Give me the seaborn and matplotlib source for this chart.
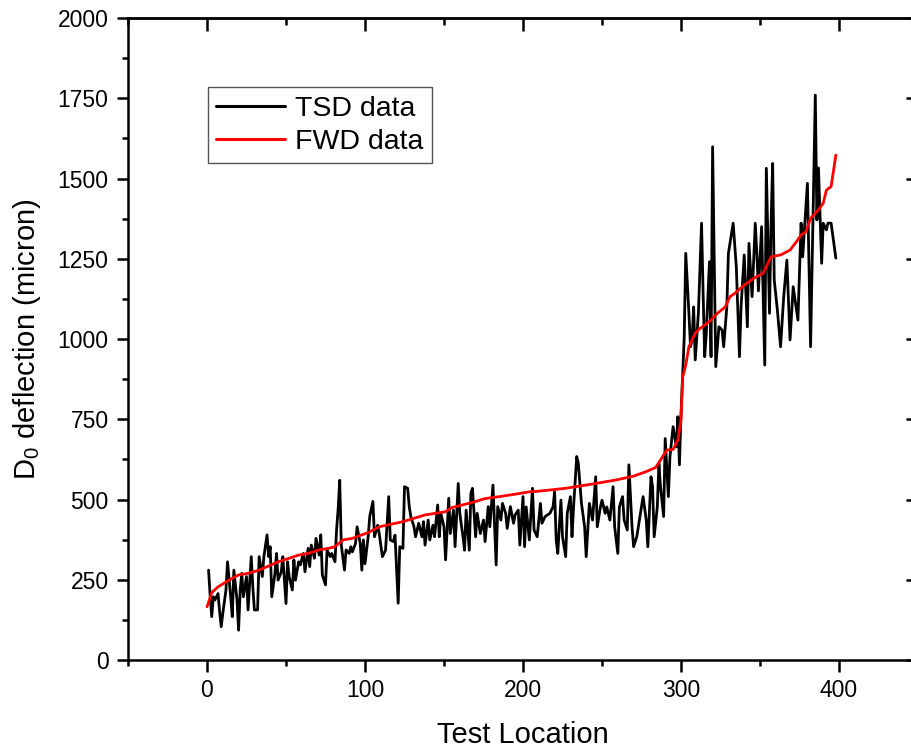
import pandas as pd
import seaborn as sns
import matplotlib.pyplot as plt
from matplotlib.ticker import MultipleLocator

tsd_x = [1, 2, 3, 4, 5, 7, 8, 9, 10, 12, 13, 15, 16, 17, 19, 20, 21, 22, 23, 25,
         26, 28, 29, 30, 32, 33, 35, 36, 38, 39, 40, 41, 43, 44, 45, 47, 48, 50, 51, 52,
         54, 55, 56, 58, 59, 61, 62, 64, 65, 66, 68, 69, 71, 72, 73, 75, 76, 78, 79, 81,
         82, 83, 84, 85, 87, 88, 90, 91, 92, 94, 95, 97, 98, 99, 100, 102, 103, 105, 106, 108,
         109, 111, 113, 115, 116, 118, 119, 121, 122, 124, 125, 127, 128, 129, 131, 132, 134, 136, 137, 138,
         140, 141, 143, 144, 146, 147, 148, 150, 151, 153, 154, 156, 157, 159, 160, 162, 163, 164, 166, 167,
         168, 170, 171, 173, 175, 176, 178, 179, 181, 183, 184, 186, 187, 189, 190, 192, 194, 195, 197, 198,
         200, 201, 202, 204, 206, 207, 209, 211, 212, 214, 217, 219, 220, 221, 222, 224, 225, 227, 228, 230,
         231, 232, 234, 235, 237, 239, 240, 242, 244, 246, 247, 249, 250, 252, 253, 255, 257, 258, 260, 261,
         263, 264, 266, 267, 269, 270, 272, 273, 275, 276, 278, 279, 281, 282, 283, 285, 286, 287, 289, 290,
         292, 293, 295, 297, 298, 299, 300, 302, 303, 305, 306, 307, 308, 309, 311, 313, 314, 315, 316, 318,
         319, 320, 322, 324, 326, 327, 329, 330, 333, 335, 337, 338, 340, 342, 343, 345, 347, 348, 349, 351,
         353, 354, 356, 357, 358, 359, 361, 363, 365, 367, 369, 371, 374, 376, 377, 380, 382, 385, 386, 387,
         389, 390, 392, 393, 395, 398]
tsd_y = [280, 200, 135, 197, 187, 207, 150, 104, 145, 218, 306, 197, 135, 280, 187, 93, 218, 270, 197, 260,
         156, 322, 228, 156, 156, 322, 260, 322, 390, 322, 353, 197, 270, 332, 249, 275, 322, 176, 306, 260,
         218, 312, 249, 306, 296, 332, 275, 348, 291, 358, 317, 379, 327, 390, 265, 234, 343, 322, 332, 306,
         405, 470, 560, 358, 280, 343, 332, 353, 337, 363, 415, 363, 280, 374, 300, 384, 447, 494, 384, 420,
         394, 322, 342, 509, 374, 369, 389, 177, 353, 348, 540, 535, 478, 447, 415, 384, 426, 384, 431, 358,
         436, 374, 420, 384, 483, 384, 457, 415, 312, 504, 394, 467, 353, 550, 457, 384, 342, 467, 342, 519,
         535, 384, 457, 394, 436, 369, 478, 415, 545, 296, 478, 436, 488, 457, 410, 478, 426, 452, 467, 358,
         509, 353, 477, 374, 535, 405, 384, 488, 426, 447, 457, 477, 524, 374, 332, 498, 384, 322, 457, 509,
         384, 477, 634, 613, 488, 415, 322, 488, 436, 571, 415, 477, 498, 457, 477, 436, 540, 415, 332, 477,
         509, 436, 405, 608, 415, 353, 384, 415, 477, 509, 436, 353, 571, 540, 384, 477, 613, 540, 447, 690,
         509, 634, 727, 664, 758, 608, 767, 1000, 1267, 1081, 976, 997, 1100, 935, 1081, 1361, 1142, 945, 1018, 1241,
         945, 1599, 914, 1038, 1028, 976, 1100, 1267, 1361, 1225, 945, 1100, 1262, 1038, 1298, 1132, 1361, 1267, 1150, 1350,
         919, 1532, 1080, 1361, 1547, 1184, 1090, 976, 1132, 1246, 997, 1163, 1059, 1361, 1256, 1485, 976, 1760, 1371, 1533,
         1236, 1361, 1340, 1361, 1361, 1252]

# FWD reference curve
fwd_x = [0, 1, 3, 7, 14, 20, 26, 33, 45, 52, 58, 64, 71, 77, 81, 86, 92, 98, 102, 109,
         124, 138, 151, 155, 168, 176, 185, 198, 204, 210, 227, 236, 246, 259, 270, 278, 284, 287, 291, 295,
         298, 300, 301, 303, 305, 309, 312, 315, 319, 323, 328, 331, 334, 340, 346, 352, 357, 363, 369, 373,
         376, 379, 382, 387, 390, 392, 395, 397, 398]
fwd_y = [166, 180, 210, 228, 249, 265, 270, 280, 306, 317, 327, 332, 343, 348, 353, 374, 379, 390, 397, 415,
         431, 452, 462, 475, 491, 503, 509, 519, 524, 526, 535, 542, 550, 561, 573, 587, 600, 623, 654, 656,
         685, 748, 880, 919, 976, 1018, 1033, 1043, 1059, 1080, 1100, 1132, 1142, 1168, 1189, 1205, 1256, 1262, 1277, 1303,
         1324, 1334, 1376, 1402, 1423, 1464, 1475, 1540, 1573]

tsd = pd.DataFrame({'loc': tsd_x, 'defl': tsd_y})
fwd = pd.DataFrame({'loc': fwd_x, 'defl': fwd_y})

sns.set_style("ticks")
plt.rcParams['font.family'] = ['Liberation Sans', 'DejaVu Sans']
plt.rcParams['mathtext.fontset'] = 'custom'
plt.rcParams['mathtext.rm'] = 'Liberation Sans'
plt.rcParams['mathtext.it'] = 'Liberation Sans:italic'
plt.rcParams['text.color'] = 'black'
plt.rcParams['axes.labelcolor'] = 'black'
plt.rcParams['xtick.color'] = 'black'
plt.rcParams['ytick.color'] = 'black'

fig = plt.figure(figsize=(9.11, 7.49), dpi=100)
ax = fig.add_axes([0.1405, 0.1188, 0.8672, 0.8571])

sns.lineplot(data=tsd, x='loc', y='defl', color='black', linewidth=2.0, label='TSD data', ax=ax)
sns.lineplot(data=fwd, x='loc', y='defl', color='#ff0000', linewidth=2.0, label='FWD data', ax=ax)

ax.set_xlim(-50, 450)
ax.set_ylim(0, 2000)
ax.xaxis.set_major_locator(MultipleLocator(100))
ax.xaxis.set_minor_locator(MultipleLocator(50))
ax.yaxis.set_major_locator(MultipleLocator(250))
ax.yaxis.set_minor_locator(MultipleLocator(125))

for s in ax.spines.values():
    s.set_visible(True)
    s.set_linewidth(1.8)
    s.set_color('black')

ax.tick_params(axis='x', which='both', bottom=True, top=False)
ax.tick_params(axis='y', which='both', left=True, right=False)
ax.tick_params(axis='x', which='major', direction='out', length=8.5, width=1.8, labelsize=16.5, pad=5)
ax.tick_params(axis='x', which='minor', direction='out', length=4, width=1.8)
ax.tick_params(axis='y', which='major', direction='out', length=8, width=1.8, labelsize=16.5, pad=6)
ax.tick_params(axis='y', which='minor', direction='out', length=4, width=1.8)

# inward ticks on top and right, no labels
top = ax.secondary_xaxis('top')
top.xaxis.set_major_locator(MultipleLocator(100))
top.xaxis.set_minor_locator(MultipleLocator(50))
top.tick_params(which='major', direction='in', length=9, width=1.8, labeltop=False)
top.tick_params(which='minor', direction='in', length=5, width=1.8)
top.spines['top'].set_linewidth(1.8)
right = ax.secondary_yaxis('right')
right.yaxis.set_major_locator(MultipleLocator(250))
right.yaxis.set_minor_locator(MultipleLocator(125))
right.tick_params(which='major', direction='in', length=9, width=1.8, labelright=False)
right.tick_params(which='minor', direction='in', length=5, width=1.8)
right.spines['right'].set_linewidth(1.8)

ax.set_xlabel('Test Location', fontsize=21)
ax.set_ylabel('D$_0$ deflection (micron)', fontsize=21)
ax.xaxis.set_label_coords(0.5, -0.095)
ax.yaxis.set_label_coords(-0.108, 0.5)

leg = ax.legend(loc='upper left', bbox_to_anchor=(0.101, 0.8925), borderaxespad=0,
                fontsize=20.5, frameon=True, fancybox=False, framealpha=1,
                handlelength=2.4, handletextpad=0.35, labelspacing=0.25, borderpad=0.3)
leg.get_frame().set_edgecolor('#555555')
leg.get_frame().set_linewidth(1.0)
for line in leg.get_lines():
    line.set_linewidth(2.2)

plt.savefig('out.png', dpi=100)
